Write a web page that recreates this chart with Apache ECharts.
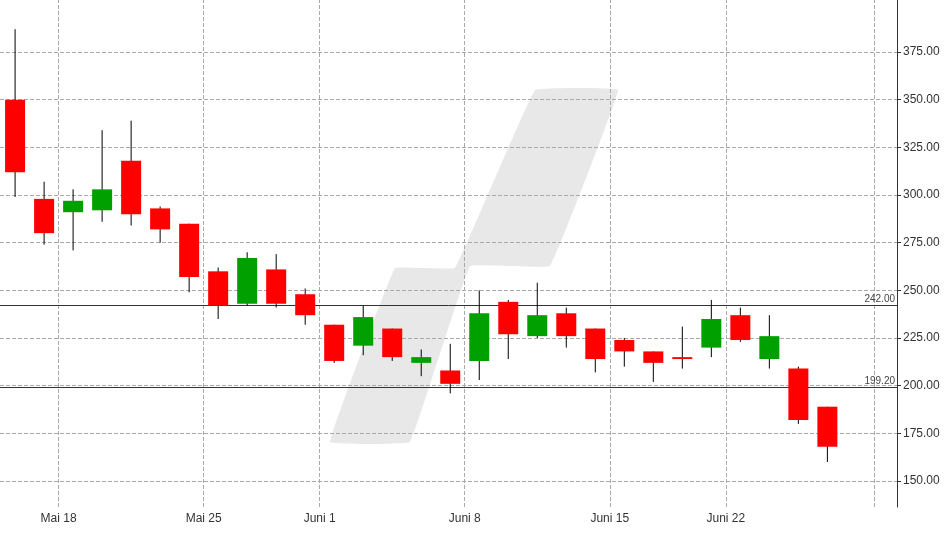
<!DOCTYPE html>
<html style="height: 100%">
<head>
    <meta charset="utf-8">
</head>
<body style="height: 100%; margin: 0; background: #fff">
<div id="container" style="height: 100%"></div>
<script type="text/javascript" src="https://cdn.jsdelivr.net/npm/echarts@6/dist/echarts.min.js"></script>
<script type="text/javascript">
    // open, close, low, high
    var opens  = [350, 298, 291, 292, 318, 293, 285, 260, 243, 261, 248, 232, 221, 230, 212, 208, 213, 244, 226, 238, 230, 224, 218, 215, 220, 237, 214, 209, 189];
    var closes = [312, 280, 297, 303, 290, 282, 257, 242, 267, 243, 237, 213, 236, 215, 215, 201, 238, 227, 237, 226, 214, 218, 212, 214, 235, 224, 226, 182, 168];
    var lows   = [299, 274, 271, 286, 284, 275, 249, 235, 242, 241, 232, 212, 216, 213, 205, 196, 203, 214, 225, 220, 207, 210, 202, 209, 215, 223, 209, 180, 160];
    var highs  = [387, 307, 303, 334, 339, 294, 285, 262, 270, 269, 251, 232, 242, 230, 219, 222, 250, 245, 254, 241, 230, 225, 218, 231, 245, 241, 237, 210, 189];
    var dateLines = [1.5, 6.5, 10.5, 15.5, 20.5, 24.5, 29.6];
    var dateLabels = ['Mai 18', 'Mai 25', 'Juni 1', 'Juni 8', 'Juni 15', 'Juni 22', ''];
    var priceTicks = [150, 175, 200, 225, 250, 275, 300, 325, 350, 375];
    var levels = [242, 199.2];

    var data = [];
    for (var i = 0; i < opens.length; i++) {
        data.push([i, opens[i], closes[i], lows[i], highs[i]]);
    }

    var dom = document.getElementById("container");
    var myChart = echarts.init(dom);

    function renderCandle(params, api) {
        var x = api.value(0);
        var o = api.coord([x, api.value(1)]);
        var c = api.coord([x, api.value(2)]);
        var l = api.coord([x, api.value(3)]);
        var h = api.coord([x, api.value(4)]);
        var w = 20;
        var up = api.value(2) >= api.value(1);
        var top = Math.min(o[1], c[1]);
        var hgt = Math.max(Math.abs(o[1] - c[1]), 1.5);
        return {
            type: 'group',
            children: [
                { type: 'line', shape: { x1: h[0], y1: h[1], x2: l[0], y2: l[1] }, style: { stroke: '#000', lineWidth: 1 } },
                { type: 'rect', shape: { x: o[0] - w / 2, y: top, width: w, height: hgt }, style: { fill: up ? '#00a000' : '#ff0000' } }
            ]
        };
    }

    var vLines = dateLines.map(function (v, i) {
        return { xAxis: v, label: { formatter: dateLabels[i] } };
    });
    var hLines = levels.map(function (v) {
        return { yAxis: v, label: { formatter: v.toFixed(2) } };
    });

    var option = {
        animation: false,
        graphic: [{
            type: 'polygon', z: -10,
            shape: { points: [[330, 442], [395, 268], [455, 268], [535, 90], [618, 90], [550, 266], [470, 266], [410, 442]], smooth: 0.05 },
            style: { fill: '#e8e8e8' }
        }],
        grid: { left: 0, right: 51, top: 0, bottom: 27 },
        xAxis: {
            type: 'value', min: -0.52, max: 30.4,
            axisLine: { show: false }, axisTick: { show: false },
            axisLabel: { show: false }, splitLine: { show: false }
        },
        yAxis: {
            type: 'value', position: 'right', min: 136.4, max: 402.3,
            axisLine: { show: true, onZero: false, lineStyle: { color: '#333' } },
            axisTick: { show: true, length: 4, lineStyle: { color: '#333' }, customValues: priceTicks },
            axisLabel: {
                color: '#333', fontSize: 12, fontFamily: 'Liberation Sans', margin: 6,
                formatter: function (v) { return v.toFixed(2); },
                customValues: priceTicks
            },
            splitLine: { show: false }
        },
        series: [
            {
                type: 'line', data: [], silent: true,
                markLine: {
                    symbol: 'none', silent: true, animation: false,
                    lineStyle: { color: '#aaa', type: 'dashed', width: 1 },
                    label: { show: false },
                    data: priceTicks.map(function (v) { return { yAxis: v }; })
                }
            },
            {
                type: 'line', data: [], silent: true,
                markLine: {
                    symbol: 'none', silent: true, animation: false,
                    lineStyle: { color: '#aaa', type: 'dashed', width: 1 },
                    label: { show: true, position: 'start', distance: 6, color: '#333', fontSize: 12, fontFamily: 'Liberation Sans' },
                    data: vLines
                }
            },
            {
                type: 'custom', renderItem: renderCandle, data: data, z: 5,
                encode: { x: 0, y: [1, 2, 3, 4] }
            },
            {
                type: 'line', data: [], silent: true, z: 6,
                markLine: {
                    symbol: 'none', silent: true, animation: false,
                    lineStyle: { color: '#333', type: 'solid', width: 1 },
                    label: { show: true, position: 'insideEndTop', distance: [2, 1], color: '#444', fontSize: 10, fontFamily: 'Liberation Sans' },
                    data: hLines
                }
            }
        ]
    };
    myChart.setOption(option, true);
</script>
</body>
</html>
